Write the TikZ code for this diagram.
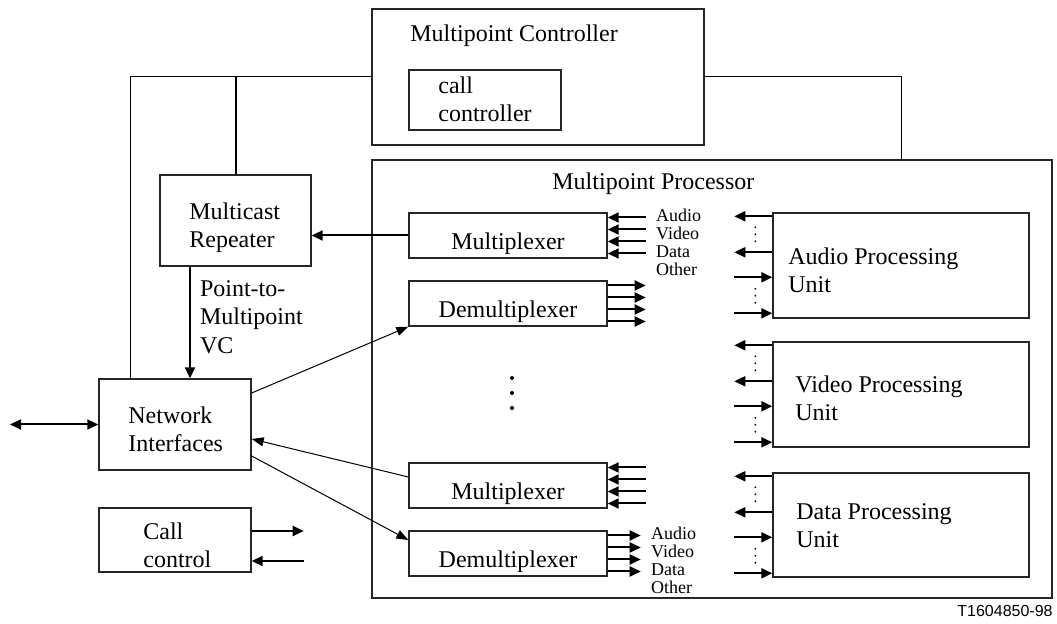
\documentclass[tikz,border=0pt]{standalone}
\usepackage{fontspec}
\setmainfont{Liberation Serif}
\newfontfamily\tagfont{Liberation Sans}
\usetikzlibrary{arrows.meta}

\tikzset{
  blk/.style={draw=black!85, line width=0.7pt, inner sep=0pt},
  txt/.style={font=\fontsize{12}{14.25}\selectfont, align=left, inner sep=0pt},
  tiny/.style={font=\fontsize{9}{9}\selectfont, align=left, inner sep=0pt},
  wire/.style={line width=0.5pt},
  sig/.style={line width=1pt, -{Triangle[length=5.5pt,width=5pt]}},
  sigboth/.style={line width=1pt, {Triangle[length=5.5pt,width=5pt]}-{Triangle[length=5.5pt,width=5pt]}},
  feed/.style={line width=0.5pt, -{Triangle[length=6pt,width=4.5pt]}},
}

\begin{document}
\begin{tikzpicture}[x=0.5pt, y=-0.5pt]
\useasboundingbox (0,0) rectangle (1057,624);

% Multipoint controller
\node[blk, minimum width=166pt, minimum height=68pt] (mc) at (538,77) {};
\node[txt, anchor=base west] at (410,42) {Multipoint Controller};
\node[blk, minimum width=76pt, minimum height=30pt] (cc) at (485,100) {};
\node[txt, anchor=base west] at (438,122) {call\\controller};

% Multipoint processor
\node[blk, minimum width=340pt, minimum height=219pt] (mp) at (712,379) {};
\node[txt, anchor=base west] at (552,190) {Multipoint Processor};

% left column
\node[blk, minimum width=75.5pt, minimum height=45.5pt] (rep) at (235.5,220.5) {};
\node[txt, anchor=base west] at (189,248) {Multicast\\Repeater};
\node[blk, minimum width=76pt, minimum height=45.5pt] (ni) at (175,424.5) {};
\node[txt, anchor=base west] at (128,452) {Network\\Interfaces};
\node[blk, minimum width=76pt, minimum height=32pt] (call) at (175,540) {};
\node[txt, anchor=base west] at (143,568) {Call\\control};

% multiplexers and demultiplexers
\foreach \nm/\cy/\lbl in {muxA/235.5/Multiplexer, demA/303.5/Demultiplexer,
                          muxB/485.5/Multiplexer, demB/553.5/Demultiplexer}
  \node[blk, txt, minimum width=99pt, minimum height=22.5pt,
        text height=14.5pt, text depth=0pt] (\nm) at (508,\cy) {\lbl};

% processing units
\node[blk, minimum width=128pt, minimum height=52.5pt] (apu) at (901,265.5) {};
\node[txt, anchor=base west] at (788,293) {Audio Processing\\Unit};
\node[blk, minimum width=128pt, minimum height=52.5pt] (vpu) at (901,394.5) {};
\node[txt, anchor=base west] at (795,421) {Video Processing\\Unit};
\node[blk, minimum width=128pt, minimum height=52pt] (dpu) at (901,525) {};
\node[txt, anchor=base west] at (796,548) {Data Processing\\Unit};

% controller links
\coordinate (lt) at (130,77);
\coordinate (rt) at (901,77);
\draw[wire] (mc.west) -- (lt) -- (lt |- ni.north);
\draw[line width=1pt] (rep.north) -- (rep.north |- lt);
\draw[wire] (mc.east) -- (rt) -- (rt |- mp.north);

% repeater and network interfaces
\draw[sig] (muxA.west) -- (muxA.west -| rep.east);
\coordinate (vc) at (190,300);
\draw[sig] (rep.south -| vc) -- node[txt, right=4.5pt, pos=0.45] {Point-to-\\Multipoint\\VC} (vc |- ni.north);
\coordinate (ext) at (10,424.5);
\draw[sigboth] (ext) -- (ni.west);
\draw[feed] ([yshift=15.75pt]ni.east) -- (demA.south west);
\draw[feed] ([yshift=4.25pt]muxB.west) -- ([yshift=-7.25pt]ni.east);
\draw[feed] ([yshift=-15.75pt]ni.east) -- ([yshift=6.75pt]demB.west);

% call control
\draw[sig] ([yshift=4.5pt]call.east) -- ++(52,0);
\draw[sig] ([yshift=-10.5pt]call.east) ++(52,0) -- ([yshift=-10.5pt]call.east);

% stream arrows
\foreach \dy in {-9,-3,3,9} {
  \draw[sig] ([yshift=\dy pt, xshift=19pt]muxA.east) -- ([yshift=\dy pt]muxA.east);
  \draw[sig] ([yshift=\dy pt]demA.east) -- ++(38,0);
  \draw[sig] ([yshift=\dy pt, xshift=19pt]muxB.east) -- ([yshift=\dy pt]muxB.east);
  \draw[sig] ([yshift=\dy pt]demB.east) -- ++(33,0);
}
\node[tiny, anchor=west] at ([xshift=24pt,yshift=-3.25pt]muxA.east) {Audio\\Video\\Data\\Other};
\node[tiny, anchor=west] at ([xshift=21.5pt,yshift=-3.25pt]demB.east) {Audio\\Video\\Data\\Other};

\foreach \u in {apu,vpu,dpu} {
  \draw[sig] ([yshift=-2pt]\u.north west) -- ++(-38,0);
  \draw[sig] ([yshift=-20pt]\u.north west) -- ++(-38,0);
  \draw[sig] ([yshift=-32.5pt,xshift=-19pt]\u.north west) -- ++(38,0);
  \draw[sig] ([yshift=-50.5pt,xshift=-19pt]\u.north west) -- ++(38,0);
  \foreach \k in {7.5,11,14.5,38.25,41.75,45.25}
    \fill ([xshift=-8.5pt,yshift=-\k pt]\u.north west) circle (0.5pt);
}

% more channels
\foreach \k in {378,393,408}
  \fill (512,\k) circle (1pt);

\node[font=\tagfont\fontsize{8}{9}\selectfont, anchor=base east, inner sep=0pt] at (1053,617) {T1604850-98};
\end{tikzpicture}
\end{document}
